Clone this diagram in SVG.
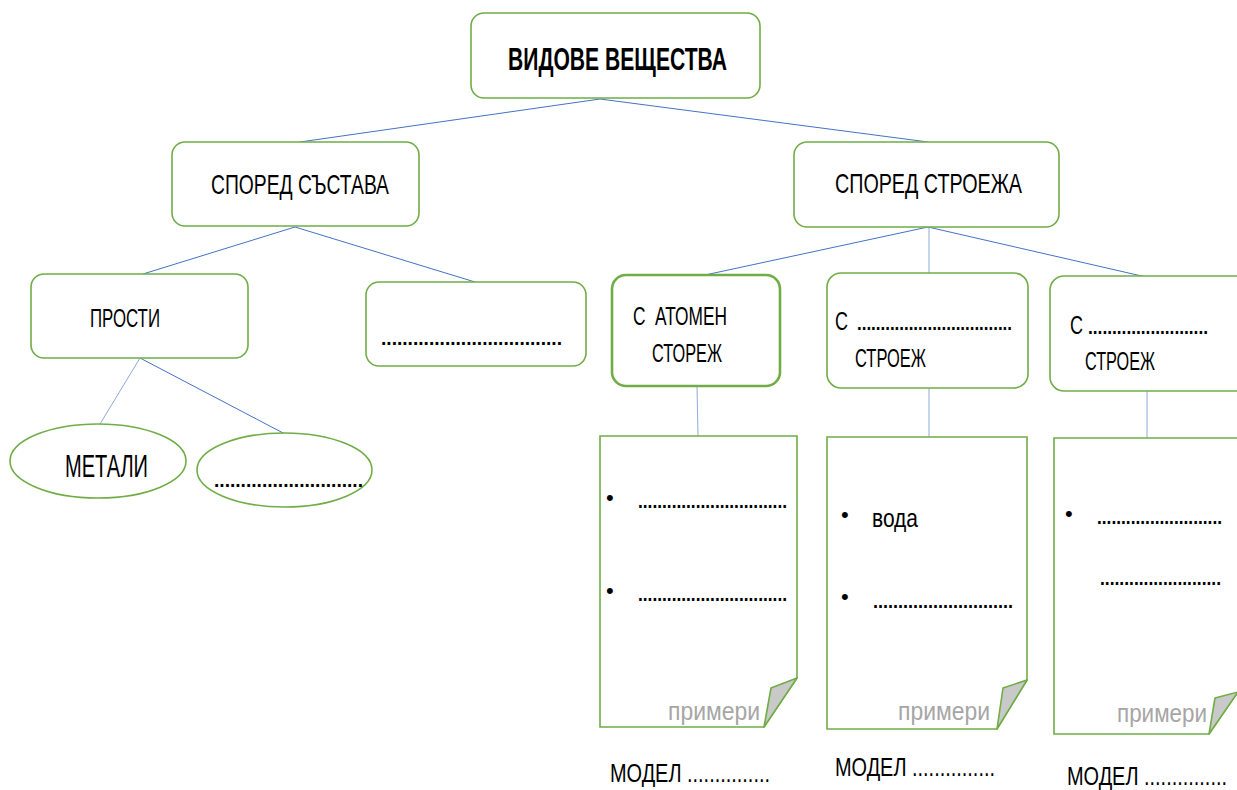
<svg xmlns="http://www.w3.org/2000/svg" width="1237" height="790" viewBox="0 0 1237 790">
  <style>
    .box { fill: #ffffff; stroke: #70ad47; stroke-width: 1.6; }
    .thick { stroke-width: 2.6; }
    .fold { fill: #c9c9c9; stroke: #70ad47; stroke-width: 1.6; stroke-linejoin: round; }
    .link { stroke: #4472c4; stroke-width: 1; fill: none; }
    .light { stroke: #8faadc; }
    text { font-family: "Liberation Sans Narrow", "Liberation Sans", Arial, sans-serif; fill: #000000; }
    .t23 { font-size: 25px; }
    .t26 { font-size: 28px; }
    .big { font-size: 31px; }
    .title { font-size: 32px; font-weight: bold; }
    .note { font-size: 25px; fill: #a6a6a6; }
    .dots { font-size: 20px; font-weight: bold; }
    .bullet { font-size: 22px; }
  </style>

  <!-- connectors -->
  <g id="connectors">
    <line class="link" x1="600" y1="99" x2="300" y2="142"/>
    <line class="link" x1="600" y1="99" x2="928" y2="142"/>
    <line class="link" x1="295" y1="227" x2="143" y2="274"/>
    <line class="link" x1="295" y1="227" x2="475" y2="282"/>
    <line class="link" x1="928" y1="227" x2="705" y2="275"/>
    <line class="link light" x1="929" y1="227" x2="929" y2="273"/>
    <line class="link" x1="928" y1="227" x2="1146" y2="277"/>
    <line class="link light" x1="140" y1="358" x2="100" y2="424"/>
    <line class="link" x1="140" y1="358" x2="285" y2="434"/>
    <line class="link light" x1="697" y1="386" x2="698" y2="436"/>
    <line class="link light" x1="929" y1="388" x2="929" y2="437"/>
    <line class="link light" x1="1147" y1="391" x2="1147" y2="438"/>
  </g>

  <!-- root -->
  <g id="root">
    <rect class="box" x="471" y="13" width="289" height="85" rx="13"/>
    <text class="title" x="508" y="70" textLength="219" lengthAdjust="spacingAndGlyphs">ВИДОВЕ ВЕЩЕСТВА</text>
  </g>

  <!-- second level -->
  <g id="by-composition">
    <rect class="box" x="172" y="142" width="247" height="84" rx="13"/>
    <text class="t26" x="211" y="194" textLength="178" lengthAdjust="spacingAndGlyphs">СПОРЕД СЪСТАВА</text>
  </g>
  <g id="by-structure">
    <rect class="box" x="794" y="142" width="265" height="85" rx="13"/>
    <text class="t26" x="835" y="193" textLength="187" lengthAdjust="spacingAndGlyphs">СПОРЕД СТРОЕЖА</text>
  </g>

  <!-- composition branch -->
  <g id="simple">
    <rect class="box" x="31" y="274" width="217" height="84" rx="13"/>
    <text class="t23" x="90" y="327" textLength="70" lengthAdjust="spacingAndGlyphs">ПРОСТИ</text>
  </g>
  <g id="compound">
    <rect class="box" x="366" y="282" width="220" height="84" rx="13"/>
    <text class="dots" x="381" y="345" textLength="181" lengthAdjust="spacingAndGlyphs">..................................</text>
  </g>
  <g id="metals">
    <ellipse class="box" cx="98" cy="461" rx="88" ry="37"/>
    <text class="big" x="65" y="477" textLength="83" lengthAdjust="spacingAndGlyphs">МЕТАЛИ</text>
  </g>
  <g id="nonmetals">
    <ellipse class="box" cx="284.5" cy="470" rx="87.5" ry="37"/>
    <text class="dots" x="214" y="487" textLength="149" lengthAdjust="spacingAndGlyphs">............................</text>
  </g>

  <!-- structure branch -->
  <g id="atomic">
    <rect class="box thick" x="612" y="275" width="168" height="111" rx="14"/>
    <text class="t23" x="633" y="325" textLength="94" lengthAdjust="spacingAndGlyphs">С&#160; АТОМЕН</text>
    <text class="t23" x="652" y="362" textLength="70" lengthAdjust="spacingAndGlyphs">СТОРЕЖ</text>
  </g>
  <g id="structure-2">
    <rect class="box" x="827" y="273" width="201" height="115" rx="14"/>
    <text class="t23" x="835" y="330" textLength="13" lengthAdjust="spacingAndGlyphs">С</text>
    <text class="dots" x="857" y="330" textLength="155" lengthAdjust="spacingAndGlyphs">.................................</text>
    <text class="t23" x="855" y="367" textLength="71" lengthAdjust="spacingAndGlyphs">СТРОЕЖ</text>
  </g>
  <g id="structure-3">
    <rect class="box" x="1050" y="276" width="200" height="115" rx="14"/>
    <text class="t23" x="1070" y="334" textLength="13" lengthAdjust="spacingAndGlyphs">С</text>
    <text class="dots" x="1088" y="334" textLength="120" lengthAdjust="spacingAndGlyphs">.........................</text>
    <text class="t23" x="1085" y="370" textLength="70" lengthAdjust="spacingAndGlyphs">СТРОЕЖ</text>
  </g>

  <!-- example sheets -->
  <g id="examples-1">
    <path class="box" d="M600,436 H797 V678 L764,727 H600 Z"/>
    <polygon class="fold" points="797,678 771,688 764,727"/>
    <text class="bullet" x="606" y="505">•</text>
    <text class="dots" x="638" y="508" textLength="149" lengthAdjust="spacingAndGlyphs">...............................</text>
    <text class="bullet" x="606" y="598">•</text>
    <text class="dots" x="638" y="601" textLength="149" lengthAdjust="spacingAndGlyphs">...............................</text>
    <text class="note" x="668" y="720" textLength="92" lengthAdjust="spacingAndGlyphs">примери</text>
  </g>
  <g id="examples-2">
    <path class="box" d="M827,437 H1027 V680 L997,729 H827 Z"/>
    <polygon class="fold" points="1027,680 1003,688 997,729"/>
    <text class="bullet" x="841" y="522">•</text>
    <text class="t23" x="872" y="527" textLength="46" lengthAdjust="spacingAndGlyphs">вода</text>
    <text class="bullet" x="841" y="604">•</text>
    <text class="dots" x="873" y="608" textLength="140" lengthAdjust="spacingAndGlyphs">............................</text>
    <text class="note" x="898" y="720" textLength="92" lengthAdjust="spacingAndGlyphs">примери</text>
  </g>
  <g id="examples-3">
    <path class="box" d="M1054,438 H1238 V692 L1209,734 H1054 Z"/>
    <polygon class="fold" points="1238,692 1215,698 1209,734"/>
    <text class="bullet" x="1065" y="521">•</text>
    <text class="dots" x="1097" y="524" textLength="125" lengthAdjust="spacingAndGlyphs">..........................</text>
    <text class="dots" x="1100" y="585" textLength="121" lengthAdjust="spacingAndGlyphs">.........................</text>
    <text class="note" x="1117" y="722" textLength="90" lengthAdjust="spacingAndGlyphs">примери</text>
  </g>

  <!-- model captions -->
  <g id="model-1">
    <text class="t23" x="610" y="782" textLength="160" lengthAdjust="spacingAndGlyphs">МОДЕЛ ...............</text>
  </g>
  <g id="model-2">
    <text class="t23" x="835" y="776" textLength="160" lengthAdjust="spacingAndGlyphs">МОДЕЛ ...............</text>
  </g>
  <g id="model-3">
    <text class="t23" x="1067" y="785" textLength="160" lengthAdjust="spacingAndGlyphs">МОДЕЛ ...............</text>
  </g>
</svg>
